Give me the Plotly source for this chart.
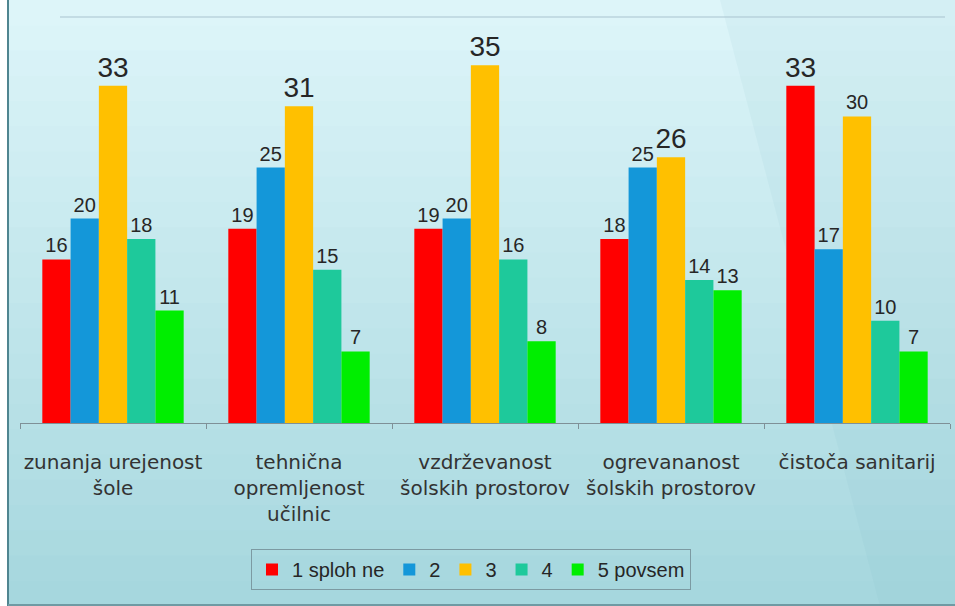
import plotly.graph_objects as go

# DATA
categories = [
    "zunanja urejenost<br>šole",
    "tehnična<br>opremljenost<br>učilnic",
    "vzdrževanost<br>šolskih prostorov",
    "ogrevananost<br>šolskih prostorov",
    "čistoča sanitarij",
]
series_names = ["1 sploh ne", "2", "3", "4", "5 povsem"]
s1 = [16, 19, 19, 18, 33]
s2 = [20, 25, 20, 25, 17]
s3 = [33, 31, 35, 26, 30]
s4 = [18, 15, 16, 14, 10]
s5 = [11, 7, 8, 13, 7]

colors = ["#ff0000", "#1497d9", "#ffc000", "#1ec99b", "#00ee00"]
all_series = [s1, s2, s3, s4, s5]

# biggest value in each group gets a bigger label
group_max = [max(vals) for vals in zip(*all_series)]

fig = go.Figure()
for name, vals, col in zip(series_names, all_series, colors):
    sizes = [28 if v == m else 20 for v, m in zip(vals, group_max)]
    fig.add_trace(go.Bar(
        x=categories, y=vals, name=name,
        marker=dict(color=col, line=dict(width=0)),
        text=[str(v) for v in vals],
        textposition="outside",
        textfont=dict(family="Liberation Sans, Arial, sans-serif", size=sizes, color="#262626"),
        constraintext="none",
        cliponaxis=False,
    ))

# background: soft vertical gradient built from bands (pixel -> paper coords)
W, H = 955, 606
L, R, T, B = 20, 950, 10, 423


def px_x(p):
    return (p - L) / (R - L)


def px_y(p):
    return (B - p) / (B - T)


top_rgb = (221, 245, 249)
bot_rgb = (166, 215, 222)
shapes = []
n = 24
for i in range(n):
    f = i / (n - 1)
    c = tuple(int(round(a + (b - a) * f)) for a, b in zip(top_rgb, bot_rgb))
    shapes.append(dict(
        type="rect", xref="paper", yref="paper", layer="below",
        x0=px_x(0), x1=px_x(W), y0=px_y(H * (i + 1) / n + 1), y1=px_y(H * i / n),
        fillcolor="rgb(%d,%d,%d)" % c, line=dict(width=0),
    ))
# darker diagonal wash on the right
shapes.append(dict(
    type="path", xref="paper", yref="paper", layer="below",
    path="M %f %f L %f %f L %f %f L %f %f Z" % (
        px_x(720), px_y(0), px_x(W), px_y(0), px_x(W), px_y(H), px_x(880), px_y(H)),
    fillcolor="rgba(120,180,190,0.08)", line=dict(width=0),
))
# slide edge: white strip + dark border on left and bottom
shapes.append(dict(type="rect", xref="paper", yref="paper", layer="below",
                   x0=px_x(0), x1=px_x(7), y0=px_y(H), y1=px_y(0),
                   fillcolor="white", line=dict(width=0)))
shapes.append(dict(type="line", xref="paper", yref="paper", layer="below",
                   x0=px_x(8), x1=px_x(8), y0=px_y(H), y1=px_y(0),
                   line=dict(color="#4f8590", width=2)))
shapes.append(dict(type="line", xref="paper", yref="paper", layer="below",
                   x0=px_x(8), x1=px_x(W), y0=px_y(605), y1=px_y(605),
                   line=dict(color="#6f9aa3", width=2)))
# underline of the cut-off slide title
shapes.append(dict(type="line", xref="paper", yref="paper", layer="below",
                   x0=px_x(60), x1=px_x(945), y0=px_y(17), y1=px_y(17),
                   line=dict(color="#a9c3cf", width=1)))

fig.update_layout(
    width=W, height=H,
    margin=dict(l=L, r=W - R, t=T, b=H - B, autoexpand=False),
    paper_bgcolor="#c9ecf1",
    plot_bgcolor="rgba(0,0,0,0)",
    barmode="group",
    bargap=0.24,
    bargroupgap=0,
    shapes=shapes,
    showlegend=True,
    legend=dict(
        orientation="h",
        x=px_x(471), xanchor="center",
        y=px_y(549), yanchor="top",
        bgcolor="rgba(0,0,0,0)",
        bordercolor="#7c9aa2", borderwidth=1,
        font=dict(family="Liberation Sans, Arial, sans-serif", size=20, color="#262626"),
        itemwidth=30,
        traceorder="normal",
    ),
    xaxis=dict(
        showline=True, linecolor="#7f9097", linewidth=1,
        ticks="outside", tickson="boundaries", ticklen=5, tickcolor="#7f9097",
        showgrid=False,
        tickangle=0,
        automargin=False,
        ticklabelstandoff=21,
        tickfont=dict(family="DejaVu Sans, sans-serif", size=20, color="#333333"),
    ),
    yaxis=dict(
        range=[0, (B - T) / 10.22],
        visible=False, showgrid=False, zeroline=False,
    ),
)

# drop the default 8px page margin so the figure sits at the window corner
fig.write_html("out.html", config={"displayModeBar": False},
               post_script="document.body.style.margin='0';")
